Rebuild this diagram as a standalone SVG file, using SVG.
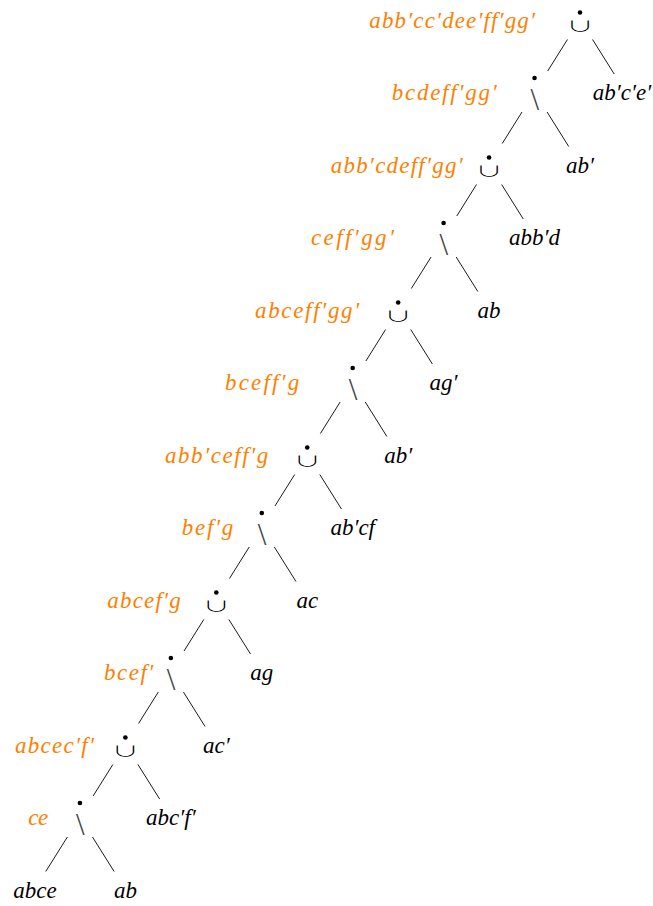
<svg xmlns="http://www.w3.org/2000/svg" width="653" height="906" viewBox="0 0 653 906">
<style>
.lbl{font-family:"Liberation Serif","DejaVu Serif",serif;font-style:italic;font-size:23px;fill:#ff8000}
.leaf{font-family:"Liberation Serif","DejaVu Serif",serif;font-style:italic;font-size:23px;fill:#000;text-anchor:middle}
.cup{font-family:"Noto Sans CJK JP","DejaVu Sans",sans-serif;font-weight:300;font-size:16px;fill:#000;text-anchor:middle}
.bs{font-family:"Liberation Serif","DejaVu Serif",serif;font-size:31px;fill:#444;text-anchor:middle}
.dot{fill:#000}
.edges line{stroke:#000;stroke-width:0.9}
</style>
<rect width="653" height="906" fill="#fff"/>
<g class="edges" id="connectors">
<line x1="567.45" y1="39.5" x2="547.7" y2="71"/><line x1="592.55" y1="39.5" x2="614.2" y2="74"/>
<line x1="521.99" y1="112" x2="502.24" y2="143.5"/><line x1="547.09" y1="112" x2="568.74" y2="146.5"/>
<line x1="476.53" y1="184.5" x2="456.78" y2="216"/><line x1="501.63" y1="184.5" x2="523.28" y2="219"/>
<line x1="431.07" y1="257" x2="411.32" y2="288.5"/><line x1="456.17" y1="257" x2="477.82" y2="291.5"/>
<line x1="385.61" y1="329.5" x2="365.86" y2="361"/><line x1="410.71" y1="329.5" x2="432.36" y2="364"/>
<line x1="340.15" y1="402" x2="320.4" y2="433.5"/><line x1="365.25" y1="402" x2="386.9" y2="436.5"/>
<line x1="294.69" y1="474.5" x2="274.94" y2="506"/><line x1="319.79" y1="474.5" x2="341.44" y2="509"/>
<line x1="249.23" y1="547" x2="229.48" y2="578.5"/><line x1="274.33" y1="547" x2="295.98" y2="581.5"/>
<line x1="203.77" y1="619.5" x2="184.02" y2="651"/><line x1="228.87" y1="619.5" x2="250.52" y2="654"/>
<line x1="158.31" y1="692" x2="138.56" y2="723.5"/><line x1="183.41" y1="692" x2="205.06" y2="726.5"/>
<line x1="112.85" y1="764.5" x2="93.1" y2="796"/><line x1="137.95" y1="764.5" x2="159.6" y2="799"/>
<line x1="67.39" y1="837" x2="45.74" y2="871.5"/><line x1="92.49" y1="837" x2="114.14" y2="871.5"/>
</g>
<g id="node0"><circle class="dot" cx="580" cy="12.5" r="2.3"/><text class="cup" transform="translate(580,31.2) scale(1.7,0.85)">∪</text><text class="lbl" x="369.3" y="27.5" textLength="165.7">abb′cc′dee′ff′gg′</text></g>
<g id="node1"><circle class="dot" cx="534.54" cy="78" r="2.3"/><text class="bs" x="534.84" y="109.5">\</text><text class="lbl" x="391.7" y="100" textLength="105">bcdeff′gg′</text></g>
<g id="node2"><circle class="dot" cx="489.08" cy="157.5" r="2.3"/><text class="cup" transform="translate(489.08,176.2) scale(1.7,0.85)">∪</text><text class="lbl" x="330.7" y="172.5" textLength="132">abb′cdeff′gg′</text></g>
<g id="node3"><circle class="dot" cx="443.62" cy="223" r="2.3"/><text class="bs" x="443.92" y="254.5">\</text><text class="lbl" x="311" y="245" textLength="83">ceff′gg′</text></g>
<g id="node4"><circle class="dot" cx="398.16" cy="302.5" r="2.3"/><text class="cup" transform="translate(398.16,321.2) scale(1.7,0.85)">∪</text><text class="lbl" x="255" y="317.5" textLength="104.3">abceff′gg′</text></g>
<g id="node5"><circle class="dot" cx="352.7" cy="368" r="2.3"/><text class="bs" x="353" y="399.5">\</text><text class="lbl" x="225" y="390" textLength="74.3">bceff′g</text></g>
<g id="node6"><circle class="dot" cx="307.24" cy="447.5" r="2.3"/><text class="cup" transform="translate(307.24,466.2) scale(1.7,0.85)">∪</text><text class="lbl" x="165" y="462.5" textLength="103.3">abb′ceff′g</text></g>
<g id="node7"><circle class="dot" cx="261.78" cy="513" r="2.3"/><text class="bs" x="262.08" y="544.5">\</text><text class="lbl" x="181.7" y="535" textLength="51.6">bef′g</text></g>
<g id="node8"><circle class="dot" cx="216.32" cy="592.5" r="2.3"/><text class="cup" transform="translate(216.32,611.2) scale(1.7,0.85)">∪</text><text class="lbl" x="107.3" y="607.5" textLength="73.4">abcef′g</text></g>
<g id="node9"><circle class="dot" cx="170.86" cy="658" r="2.3"/><text class="bs" x="171.16" y="689.5">\</text><text class="lbl" x="104" y="680" textLength="49.3">bcef′</text></g>
<g id="node10"><circle class="dot" cx="125.4" cy="737.5" r="2.3"/><text class="cup" transform="translate(125.4,756.2) scale(1.7,0.85)">∪</text><text class="lbl" x="15" y="752.5" textLength="79">abcec′f′</text></g>
<g id="node11"><circle class="dot" cx="79.94" cy="803" r="2.3"/><text class="bs" x="80.24" y="834.5">\</text><text class="lbl" x="28.3" y="825" textLength="20">ce</text></g>
<g id="leaf1"><text class="leaf" x="622" y="100">ab′c′e′</text></g>
<g id="leaf2"><text class="leaf" x="580" y="172.5">ab′</text></g>
<g id="leaf3"><text class="leaf" x="534.54" y="245">abb′d</text></g>
<g id="leaf4"><text class="leaf" x="489.08" y="317.5">ab</text></g>
<g id="leaf5"><text class="leaf" x="443.62" y="390">ag′</text></g>
<g id="leaf6"><text class="leaf" x="398.16" y="462.5">ab′</text></g>
<g id="leaf7"><text class="leaf" x="352.7" y="535">ab′cf</text></g>
<g id="leaf8"><text class="leaf" x="307.24" y="607.5">ac</text></g>
<g id="leaf9"><text class="leaf" x="261.78" y="680">ag</text></g>
<g id="leaf10"><text class="leaf" x="216.32" y="752.5">ac′</text></g>
<g id="leaf11"><text class="leaf" x="170.86" y="825">abc′f′</text></g>
<g id="leaf12a"><text class="leaf" x="35" y="897.5">abce</text></g>
<g id="leaf12b"><text class="leaf" x="125.4" y="897.5">ab</text></g>
</svg>
